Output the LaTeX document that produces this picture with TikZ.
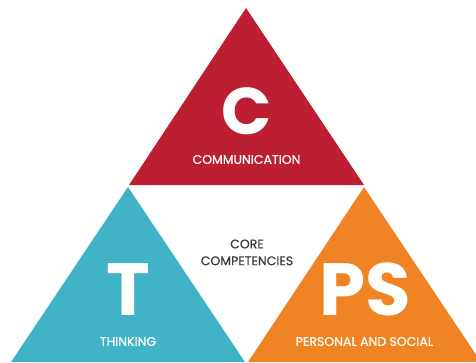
\documentclass[tikz,border=0pt]{standalone}
\usepackage{fontspec}
\setmainfont{Poppins}
\newfontfamily\popmed[FakeBold=0.6]{Poppins}
\usepackage{tikz}
\usetikzlibrary{positioning}

\definecolor{commred}{HTML}{BC1F31}
\definecolor{thinkteal}{HTML}{40B3C6}
\definecolor{psorange}{HTML}{F08424}
\definecolor{coregray}{HTML}{3A3A3A}

\begin{document}
\begin{tikzpicture}[x=1pt,y=-1pt,
	bigletter/.style={text=white,font=\fontsize{74}{74}\selectfont\bfseries,inner sep=0pt},
	caption/.style={text=white,font=\popmed\fontsize{12.5}{13}\selectfont,inner sep=0pt},
	corelabel/.style={text=coregray,font=\popmed\fontsize{12.5}{13}\selectfont,inner sep=0pt}]
	
	\useasboundingbox (0,0) rectangle (476,362);
	\clip (0,0) rectangle (476,362);
	
	% triangles
	\fill [commred] (246,8) -- (129,185) -- (364,185) -- cycle;
	\fill [thinkteal] (128,187) -- (11,362) -- (245,362) -- cycle;
	\fill [psorange] (364,187) -- (248,362) -- (481,362) -- cycle;
	
	% labels
	\node (c) [bigletter, font=\fontsize{66}{66}\selectfont\bfseries] at (246.5,111) {C};
	\node (comm) [caption] at (246.5,159.5) {COMMUNICATION};
	
	\node (t) [bigletter] at (128,289.5) {T};
	\node (think) [caption] at (128,341.5) {THINKING};
	
	\node (ps) [bigletter] at (365,289.5) {PS};
	\node (pers) [caption] at (364.5,341.5) {PERSONAL AND SOCIAL};
	
	\node (core) [corelabel] at (247,244) {CORE};
	\node (compet) [corelabel, below=7.5pt of core] {COMPETENCIES};
	
\end{tikzpicture}
\end{document}
